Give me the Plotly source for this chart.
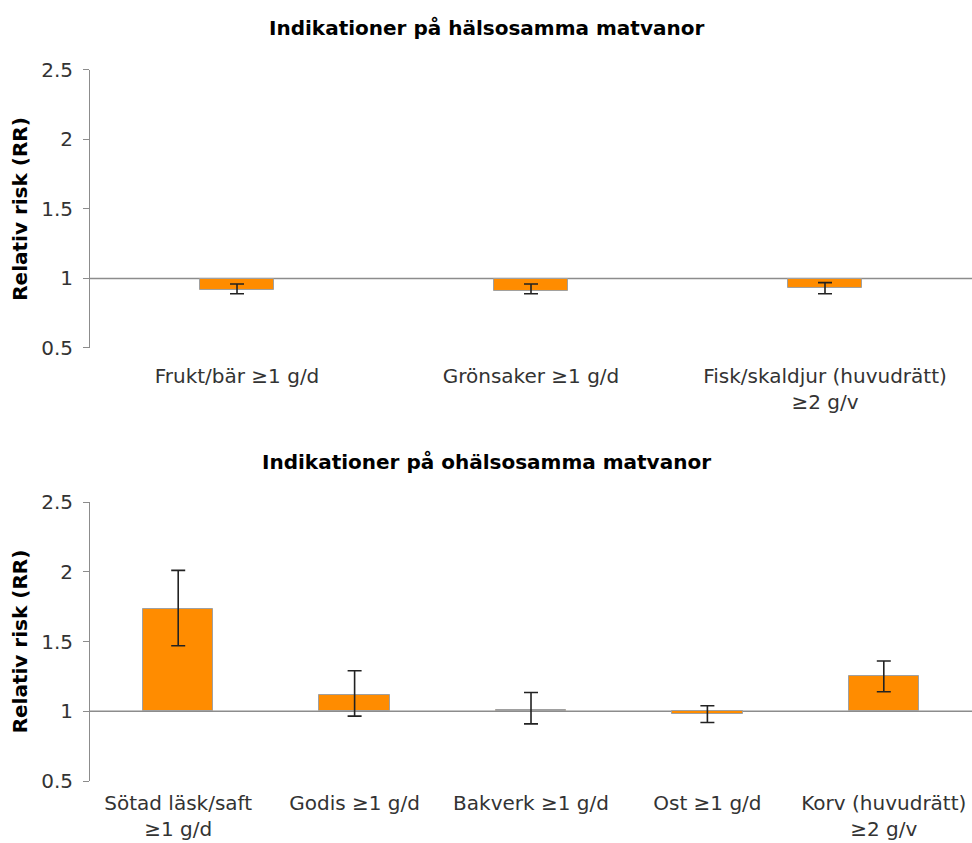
import plotly.graph_objects as go

# Healthy habits
healthy_cats = ["Frukt/bär ≥1 g/d", "Grönsaker ≥1 g/d", "Fisk/skaldjur (huvudrätt)<br>≥2 g/v"]
healthy_rr = [0.92, 0.91, 0.935]
healthy_lo = [0.89, 0.89, 0.89]
healthy_hi = [0.96, 0.96, 0.97]

# Unhealthy habits
unhealthy_cats = ["Sötad läsk/saft<br>≥1 g/d", "Godis ≥1 g/d", "Bakverk ≥1 g/d", "Ost ≥1 g/d", "Korv (huvudrätt)<br>≥2 g/v"]
unhealthy_rr = [1.73, 1.12, 1.01, 0.98, 1.25]
unhealthy_lo = [1.47, 0.965, 0.91, 0.92, 1.14]
unhealthy_hi = [2.01, 1.29, 1.135, 1.04, 1.36]

titles = ["Indikationer på hälsosamma matvanor", "Indikationer på ohälsosamma matvanor"]
ytitle = "Relativ risk (RR)"
yticks = [0.5, 1, 1.5, 2, 2.5]

FONT = "DejaVu Sans"
BAR = "#FF8C00"

fig = go.Figure()

def add_panel(cats, rr, lo, hi, xa, ya, width):
    fig.add_trace(go.Bar(
        x=cats, y=[v - 1 for v in rr], base=[1] * len(rr),
        xaxis=xa, yaxis=ya, width=width,
        marker=dict(color=BAR, line=dict(color="#a0a0a0", width=1)),
        error_y=dict(type="data", symmetric=False,
                     array=[h - v for h, v in zip(hi, rr)],
                     arrayminus=[v - l for v, l in zip(rr, lo)],
                     color="#222222", thickness=1.6, width=7),
        showlegend=False, hoverinfo="skip",
    ))

add_panel(healthy_cats, healthy_rr, healthy_lo, healthy_hi, "x", "y", 0.25)
add_panel(unhealthy_cats, unhealthy_rr, unhealthy_lo, unhealthy_hi, "x2", "y2", 0.4)

xcommon = dict(showline=False, ticks="", showgrid=False, zeroline=False, automargin=False,
               tickfont=dict(family=FONT, size=20, color="#333333"), fixedrange=True)
ycommon = dict(range=[0.5, 2.5], tickvals=yticks, ticktext=[f"{t:g}" for t in yticks],
               showline=True, linecolor="#8c8c8c", linewidth=1, automargin=False,
               ticks="outside", ticklen=6, tickcolor="#8c8c8c", ticklabelstandoff=6,
               showgrid=False, zeroline=False,
               tickfont=dict(family=FONT, size=20, color="#333333"),
               title=dict(text=f"<b>{ytitle}</b>", font=dict(family=FONT, size=20, color="#000000"), standoff=8))

fig.update_layout(
    width=972, height=843,
    margin=dict(l=0, r=0, t=0, b=0, autoexpand=False),
    paper_bgcolor="white", plot_bgcolor="white",
    xaxis=dict(domain=[0.0926, 1.0], anchor="y", ticklabelstandoff=14, **xcommon),
    yaxis=dict(domain=[0.5872, 0.917], anchor="x", **ycommon),
    xaxis2=dict(domain=[0.0926, 1.0], anchor="y2", ticklabelstandoff=8, **xcommon),
    yaxis2=dict(domain=[0.0735, 0.4045], anchor="x2", **ycommon),
    bargap=0,
)

for ya, xa in (("y", "x"), ("y2", "x2")):
    fig.add_shape(type="line", xref=f"{xa} domain", yref=ya, x0=0, x1=1, y0=1, y1=1,
                  line=dict(color="#8c8c8c", width=1.5), layer="below")

for text, y in zip(titles, (0.967, 0.452)):
    fig.add_annotation(text=f"<b>{text}</b>", xref="paper", yref="paper", x=0.5, y=y,
                       yanchor="middle", showarrow=False,
                       font=dict(family=FONT, size=20, color="#000000"))

fig.write_html("out.html")
